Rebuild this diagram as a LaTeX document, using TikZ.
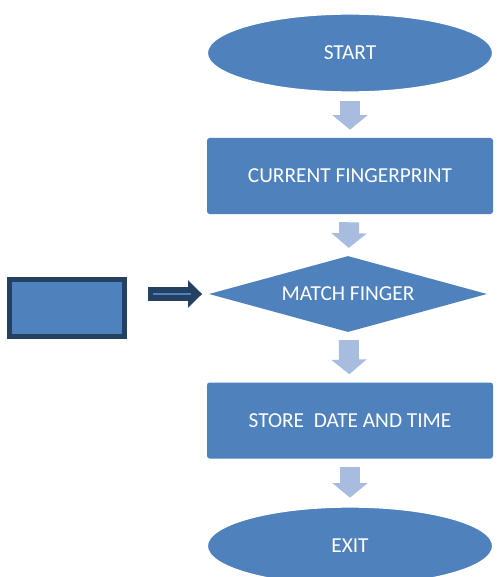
\documentclass[tikz,border=0pt]{standalone}
\usepackage{fontspec}
\setmainfont{Carlito}
\usetikzlibrary{shapes.geometric,arrows.meta}
\definecolor{boxblue}{RGB}{79,129,189}
\definecolor{navy}{RGB}{36,64,98}
\definecolor{pale}{RGB}{167,188,222}

\begin{document}
\begin{tikzpicture}[x=0.75pt,y=-0.75pt,
	every node/.style={font=\fontsize{16}{19}\selectfont, text=white, inner sep=0pt},
	term/.style={ellipse, fill=boxblue, draw=white, line width=1.5pt, minimum width=214.5pt, minimum height=59pt},
	proc/.style={rectangle, rounded corners=2pt, fill=boxblue, minimum width=214.5pt, minimum height=57pt},
	decide/.style={diamond, aspect=3.65, fill=boxblue, minimum width=208.5pt, minimum height=57pt},
	flow/.style={pale, line width=15pt, shorten <=6pt, shorten >=6pt, -{Triangle[width=26pt,length=11pt]}}]
		\useasboundingbox (0,0) rectangle (498,577);
		
		\node[term] (start) at (350,53) {START};
		\node[proc] (fp) at (350,176) {CURRENT FINGERPRINT};
		\node[decide] (match) at (348,294) {MATCH FINGER};
		\node[proc] (store) at (350,420.5) {STORE\ \ DATE AND TIME};
		\node[term] (exit) at (350,546) {EXIT};
		\node[draw=navy, fill=boxblue, line width=3.75pt, minimum width=86.25pt, minimum height=42.75pt] (reader) at (67,307.5) {};
		
		\draw[flow] (start) -- (fp);
		\draw[flow] (fp) -- (match);
		\draw[flow] (match) -- (store);
		\draw[flow] (store) -- (exit);
		
		% double arrow from the box
		\draw[navy, line width=10pt, shorten <=16pt, shorten >=5pt, -{Triangle[width=20pt,length=10.5pt]}] (reader.east |- match.west) -- (match.west);
		\draw[boxblue, line width=1.5pt, shorten <=19.5pt, shorten >=13pt] (reader.east |- match.west) -- (match.west);
	\end{tikzpicture}
\end{document}
